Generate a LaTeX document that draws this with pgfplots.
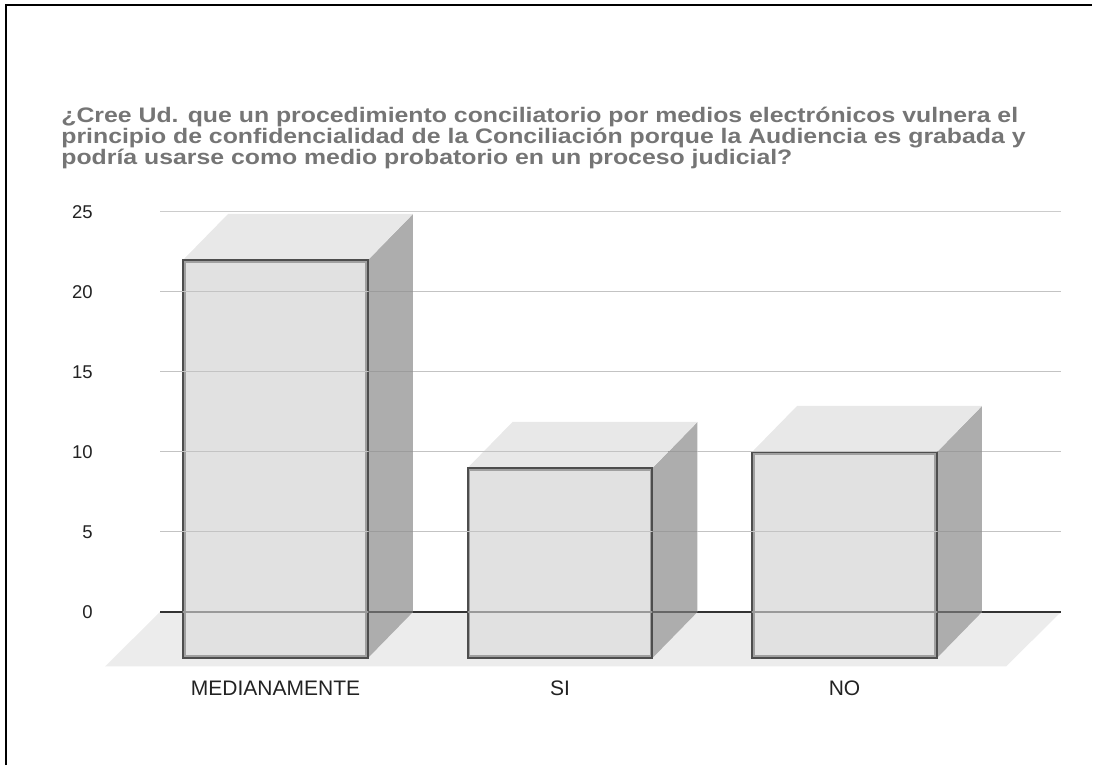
\documentclass[border=0pt]{standalone}
\usepackage{graphicx}
\usepackage{pgfplots}
\pgfplotsset{compat=1.18}
\usepackage{fontspec}
\setmainfont{Liberation Sans}

\definecolor{titlegray}{HTML}{757575}
\definecolor{labelgray}{HTML}{222222}
\definecolor{gridgray}{HTML}{CCCCCC}
\definecolor{gridover}{HTML}{C3C3C3}
\definecolor{gridside}{HTML}{9C9C9C}
\definecolor{floorgray}{HTML}{ECECEC}
\definecolor{frontgray}{HTML}{E1E1E1}
\definecolor{topgray}{HTML}{E8E8E8}
\definecolor{sidegray}{HTML}{ADADAD}
\definecolor{edgegray}{HTML}{4D4D4D}
\definecolor{inneredge}{HTML}{A0A0A0}
\definecolor{zerogray}{HTML}{333333}
\definecolor{zerofront}{HTML}{999999}
\definecolor{zeroside}{HTML}{666666}

\pgfplotsset{
  side/.style={fill=sidegray, draw=none},
  topf/.style={fill=topgray, draw=none},
  front/.style={fill=frontgray, draw=edgegray, line width=1pt},
  inner/.style={draw=inneredge, line width=0.7pt},
}
\newcommand{\ttl}[1]{\scalebox{1.182}[1]{#1}}

\begin{document}
\begin{tikzpicture}
\path[use as bounding box] (0,0) rectangle (548pt,382.5pt);
\draw[black, line width=1pt] (3pt,0) -- (3pt,380pt) -- (546pt,380pt);
\begin{axis}[
  at={(80pt,76.5pt)}, anchor=south west,
  scale only axis, width=450.5pt, height=200pt,
  xmin=-0.406, xmax=2.761, ymin=0, ymax=25,
  clip=false,
  axis line style={draw=none},
  tick style={draw=none},
  ytick={0,5,10,15,20,25},
  ymajorgrids, grid style={color=gridgray, line width=0.5pt},
  xtick={0,1,2}, xticklabels={MEDIANAMENTE,SI,NO},
  yticklabel style={font=\fontsize{9.25}{11}\selectfont, text=labelgray, anchor=east, inner sep=0pt, xshift=-33.5pt},
  xticklabel style={font=\fontsize{10.5}{12}\selectfont, text=labelgray, anchor=north, inner sep=0pt, yshift=-34.4pt},
  /pgf/number format/assume math mode=true,
  unbounded coords=jump,
]
% floor
\addplot[fill=floorgray, draw=none] coordinates {(-0.599,-3.4)(2.568,-3.4)(2.761,0)(-0.406,0)} -- cycle;
\addplot[zerogray, line width=0.75pt] coordinates {(-0.406,0)(2.761,0)};

% MEDIANAMENTE = 22
\addplot[side] coordinates {(0.325,-2.875)(0.483,0)(0.483,24.875)(0.325,22)} -- cycle;
\addplot[topf] coordinates {(-0.325,22)(0.325,22)(0.483,24.875)(-0.167,24.875)} -- cycle;
\addplot[front] coordinates {(-0.325,-2.875)(0.325,-2.875)(0.325,22)(-0.325,22)} -- cycle;
\addplot[inner] coordinates {(-0.318,-2.75)(0.318,-2.75)(0.318,21.875)(-0.318,21.875)} -- cycle;

% SI = 9
\addplot[side] coordinates {(1.325,-2.875)(1.483,0)(1.483,11.875)(1.325,9)} -- cycle;
\addplot[topf] coordinates {(0.675,9)(1.325,9)(1.483,11.875)(0.833,11.875)} -- cycle;
\addplot[front] coordinates {(0.675,-2.875)(1.325,-2.875)(1.325,9)(0.675,9)} -- cycle;
\addplot[inner] coordinates {(0.682,-2.75)(1.318,-2.75)(1.318,8.875)(0.682,8.875)} -- cycle;

% NO = 10
\addplot[side] coordinates {(2.325,-2.875)(2.483,0)(2.483,12.875)(2.325,10)} -- cycle;
\addplot[topf] coordinates {(1.675,10)(2.325,10)(2.483,12.875)(1.833,12.875)} -- cycle;
\addplot[front] coordinates {(1.675,-2.875)(2.325,-2.875)(2.325,10)(1.675,10)} -- cycle;
\addplot[inner] coordinates {(1.682,-2.75)(2.318,-2.75)(2.318,9.875)(1.682,9.875)} -- cycle;

% grid lines seen through the bars
\addplot[gridover, line width=0.5pt] coordinates {
  (-0.406,5)(2.761,5)(nan,nan)
  (-0.406,10)(2.761,10)(nan,nan)
  (-0.406,15)(2.761,15)(nan,nan)
  (-0.406,20)(2.761,20)};
\addplot[gridside, line width=0.5pt] coordinates {
  (0.325,5)(0.483,5)(nan,nan)(0.325,10)(0.483,10)(nan,nan)
  (0.325,15)(0.483,15)(nan,nan)(0.325,20)(0.483,20)(nan,nan)
  (1.325,5)(1.483,5)(nan,nan)(1.380,10)(1.483,10)(nan,nan)
  (2.325,5)(2.483,5)(nan,nan)(2.325,10)(2.483,10)};
\addplot[zerofront, line width=0.75pt] coordinates {
  (-0.325,0)(0.325,0)(nan,nan)(0.675,0)(1.325,0)(nan,nan)(1.675,0)(2.325,0)};
\addplot[zeroside, line width=0.75pt] coordinates {
  (0.325,0)(0.483,0)(nan,nan)(1.325,0)(1.483,0)(nan,nan)(2.325,0)(2.483,0)};
\end{axis}

\begin{scope}[every node/.style={anchor=base west, inner sep=0pt, text=titlegray, font=\bfseries\fontsize{10.5}{10.5}\selectfont}]
\node at (30.5pt,321pt) {\ttl{¿Cree Ud. que un procedimiento conciliatorio por medios electrónicos vulnera el}};
\node at (30.5pt,310.65pt) {\ttl{principio de confidencialidad de la Conciliación porque la Audiencia es grabada y}};
\node at (30.5pt,300.3pt) {\ttl{podría usarse como medio probatorio en un proceso judicial?}};
\end{scope}
\end{tikzpicture}
\end{document}
